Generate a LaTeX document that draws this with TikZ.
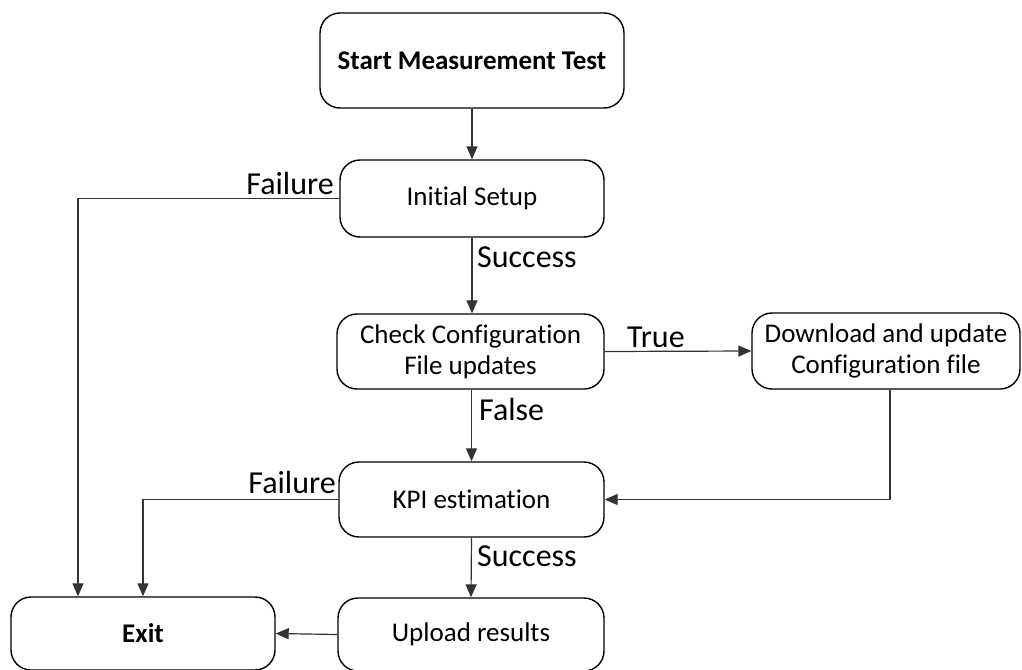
\documentclass[tikz,border=0pt]{standalone}
\usepackage{fontspec}
\setmainfont[Ligatures=NoCommon]{Carlito}
\usetikzlibrary{arrows.meta}
\begin{document}
\begin{tikzpicture}[x=1pt,y=-1pt,
  stepbox/.style={draw=black, line width=1.4pt, rounded corners=20pt,
    align=center, font=\fontsize{27}{31}\selectfont, inner sep=0pt},
  flow/.style={draw=black!80, line width=1.2pt,
    -{Triangle[length=13pt,width=11pt]}},
  lbl/.style={font=\fontsize{32}{36}\selectfont, inner sep=0pt}
]
\useasboundingbox (0,0) rectangle (1022,669);

% process boxes
\node[stepbox, minimum width=304pt, minimum height=95pt, font=\fontsize{27}{31}\selectfont\bfseries]
  (start) at (472,60.5) {Start Measurement Test};
\node[stepbox, minimum width=264pt, minimum height=77pt] (init) at (472,198.5) {Initial Setup};
\node[stepbox, minimum width=267pt, minimum height=75pt] (check) at (470.5,351.5)
  {Check Configuration\\File updates};
\node[stepbox, minimum width=268pt, minimum height=76pt] (down) at (886,351)
  {Download and update\\Configuration file};
\node[stepbox, minimum width=265pt, minimum height=75pt] (kpi) at (471.5,499.5) {KPI estimation};
\node[stepbox, minimum width=266pt, minimum height=73pt] (up) at (471,634.5) {Upload results};
\node[stepbox, minimum width=264pt, minimum height=73pt, font=\fontsize{27}{31}\selectfont\bfseries]
  (exit) at (143,633.5) {Exit};

% bend points
\coordinate (f1) at (78,198.5);
\coordinate (f2) at (143,499.5);
\coordinate (d1) at (890,499.5);

% connectors
\draw[flow] (start.south) -- (init.north);
\draw[flow] (init.west) -- (f1) -- (f1 |- exit.north);
\draw[flow] (init.south) -- (init.south |- check.north);
\draw[flow] (check.east) -- (down.west);
\draw[flow] (down.south -| d1) -- (d1) -- (kpi.east);
\draw[flow] (check.south -| kpi.north) -- (kpi.north);
\draw[flow] (kpi.west) -- (f2) -- (exit.north -| f2);
\draw[flow] (kpi.south) -- (up.north);
\draw[flow] (up.west) -- (exit.east);

% connector labels
\node[lbl, anchor=south east] (lf1) at (334,195) {Failure};
\node[lbl, anchor=west] (ls1) at (477,257) {Success};
\node[lbl, anchor=west] (lt) at (627,337) {True};
\node[lbl, anchor=west] (lfa) at (479,410) {False};
\node[lbl, anchor=south east] (lf2) at (336,494) {Failure};
\node[lbl, anchor=west] (ls2) at (477,556) {Success};
\end{tikzpicture}
\end{document}
